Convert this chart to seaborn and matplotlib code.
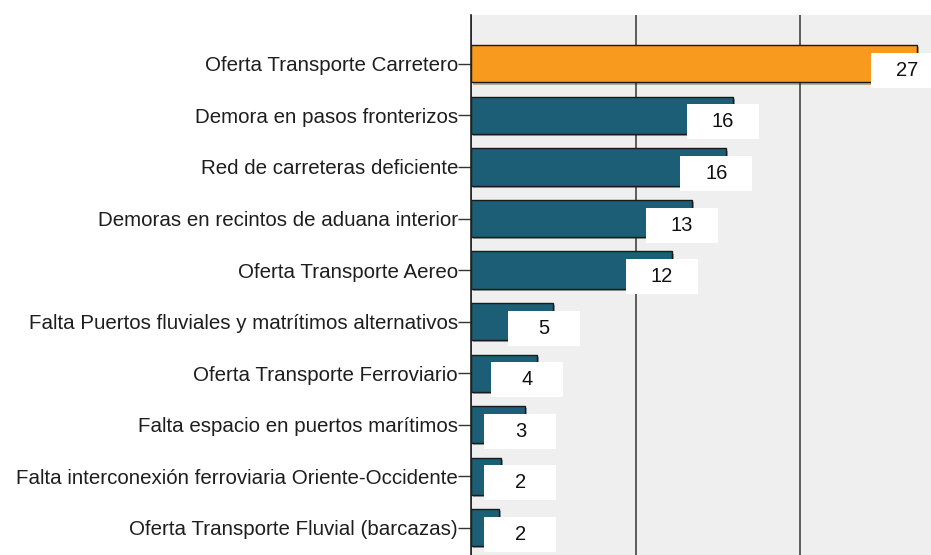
import numpy as np
import pandas as pd
import matplotlib
matplotlib.use("Agg")
import matplotlib.pyplot as plt
import matplotlib.transforms as mtransforms
import matplotlib.patheffects as pe
from matplotlib.patches import Rectangle
import seaborn as sns

# Data (percent of answers)
categories = [
    "Oferta Transporte Carretero",
    "Demora en pasos fronterizos",
    "Red de carreteras deficiente",
    "Demoras en recintos de aduana interior",
    "Oferta Transporte Aereo",
    "Falta Puertos fluviales y matrítimos alternativos",
    "Oferta Transporte Ferroviario",
    "Falta espacio en puertos marítimos",
    "Falta interconexión ferroviaria Oriente-Occidente",
    "Oferta Transporte Fluvial (barcazas)",
]
values = [27.1, 15.9, 15.5, 13.4, 12.2, 5.0, 4.0, 3.3, 1.8, 1.7]
labels = ["27", "16", "16", "13", "12", "5", "4", "3", "2", "2"]
bar_colors = ["#f79a1e"] + ["#1c5e76"] * 9

df = pd.DataFrame({"categoria": categories, "valor": values})

sns.set_style("white")
plt.rcParams["font.family"] = ["Liberation Sans", "DejaVu Sans"]

fig = plt.figure(figsize=(9.31, 5.55), dpi=100)
ax = fig.add_axes([0.506, 0.0, 0.494, 0.973])
ax.set_facecolor("#efefef")

sns.barplot(data=df, x="valor", y="categoria", hue="categoria",
            palette=bar_colors, legend=False, width=0.72,
            edgecolor="#1a1a1a", linewidth=1.0, saturation=1, ax=ax)

# soft shadow like the original export
for p in ax.patches:
    p.set_path_effects([pe.SimplePatchShadow(offset=(1.5, -1.5), alpha=0.35), pe.Normal()])

ax.set_xlim(0, 27.94)
ax.set_ylim(9.53, -0.95)
ax.set_xticks([0, 10, 20])
ax.set_xticklabels([])
ax.tick_params(axis="x", length=0)
ax.grid(axis="x", color="#444444", linewidth=1.2)
ax.set_axisbelow(True)
ax.set_xlabel("")
ax.set_ylabel("")

ax.tick_params(axis="y", left=True, length=9.5, width=1, color="#333333",
               labelsize=14.8, labelcolor="#1e1e1e", pad=0)
for side in ["top", "right", "bottom"]:
    ax.spines[side].set_visible(False)
ax.spines["left"].set_color("#222222")
ax.spines["left"].set_linewidth(1.2)

# white value boxes near the end of each bar
for i, (v, lab) in enumerate(zip(values, labels)):
    x = max(v - 0.6, 3.0)
    tr = fig.dpi_scale_trans + mtransforms.ScaledTranslation(x, i, ax.transData)
    ax.add_patch(Rectangle((-0.36, -0.24), 0.72, 0.35, transform=tr,
                           facecolor="white", edgecolor="none", zorder=5,
                           clip_on=False))
    ax.text(0, -0.065, lab, transform=tr, ha="center", va="center",
            fontsize=14.5, color="#111111", zorder=6)

fig.savefig("out.png", dpi=100)
